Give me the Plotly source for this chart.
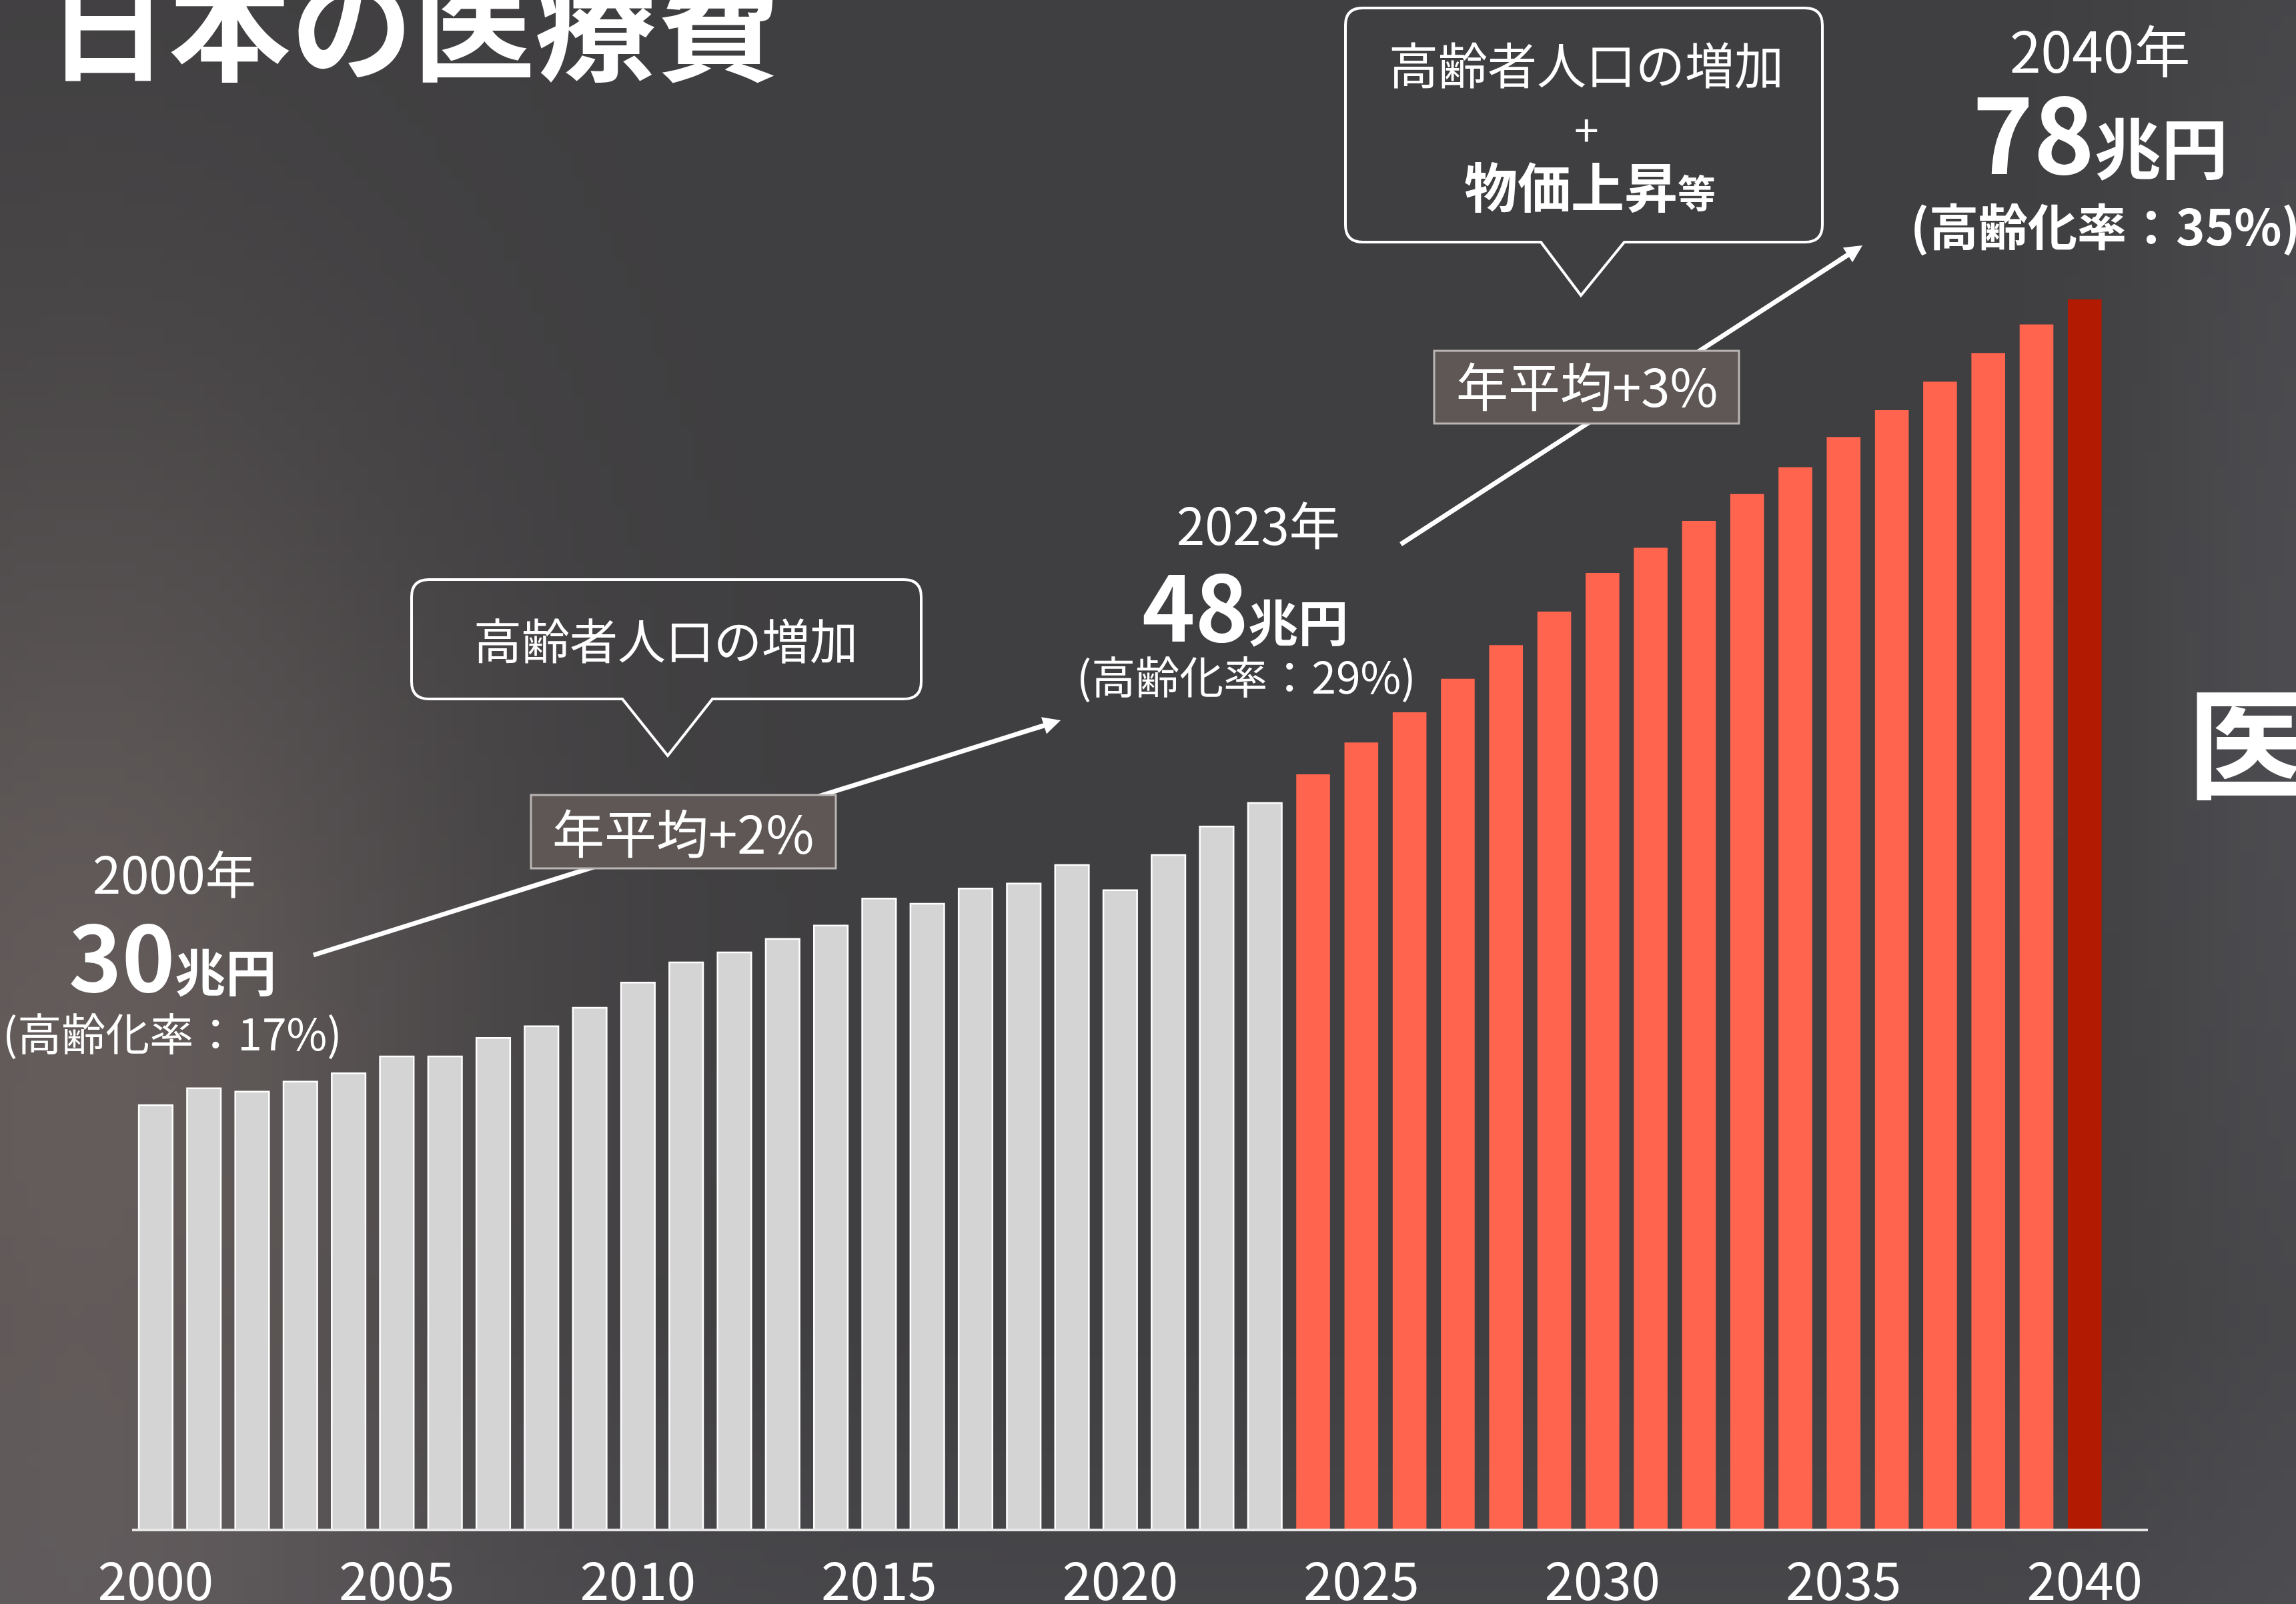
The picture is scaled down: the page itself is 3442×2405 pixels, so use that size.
import base64, struct, zlib
import numpy as np
import plotly.graph_objects as go

# ---------------- data ----------------
years = list(range(2000, 2041))
values = [30.0, 31.0, 30.8, 31.4, 31.9, 32.9, 32.9, 34.0, 34.7, 35.8,
          37.3, 38.5, 39.1, 39.9, 40.7, 42.3, 42.0, 42.9, 43.2, 44.3,
          42.8, 44.9, 46.6, 48.0, 49.7, 51.6, 53.4, 55.4, 57.4, 59.4,
          61.7, 63.2, 64.8, 66.4, 68.0, 69.8, 71.4, 73.1, 74.8, 76.5,
          78.0]
last_actual_year = 2023
target_year = 2040
tick_years = list(range(2000, 2041, 5))
tick_text = [str(y) for y in tick_years]

FONT = "Noto Sans CJK JP"
W, H = 3442, 2405
L, R, T, B = 198, 3220, 0, 2292  # plot area in pixels

# ---------------- helpers ----------------
def px(x):
    return (x - L) / (R - L)

def py(y):
    return (B - y) / (B - T)

def png_uri(arr):
    h, w, _ = arr.shape
    raw = b"".join(b"\x00" + arr[i].tobytes() for i in range(h))
    def chunk(tag, data):
        return struct.pack(">I", len(data)) + tag + data + struct.pack(">I", zlib.crc32(tag + data) & 0xffffffff)
    png = (b"\x89PNG\r\n\x1a\n" + chunk(b"IHDR", struct.pack(">IIBBBBB", w, h, 8, 2, 0, 0, 0))
           + chunk(b"IDAT", zlib.compress(raw, 9)) + chunk(b"IEND", b""))
    return "data:image/png;base64," + base64.b64encode(png).decode()

# background texture (soft gradient)
gw, gh = 172, 120
u = np.linspace(0, 1, gw)[None, :]
v = np.linspace(0, 1, gh)[:, None]
base = np.array([63, 62, 64], float)
warm = np.exp(-((u - 0.04) / 0.17) ** 2 - ((v - 0.70) / 0.45) ** 2)[..., None] * np.array([38, 31, 28], float)
right = np.exp(-((u - 1.0) / 0.08) ** 2 - ((v - 0.45) / 0.6) ** 2)[..., None] * np.array([14, 14, 16], float)
bottom = np.clip((v - 0.82) / 0.18, 0, 1)[..., None] * np.ones((1, gw, 1)) * np.array([9, 9, 11], float)
img = np.clip(base + warm + right + bottom, 0, 255).astype(np.uint8)
bg_uri = png_uri(img)

# ---------------- bars ----------------
colors, lws = [], []
for y in years:
    if y <= last_actual_year:
        colors.append("#d4d4d4"); lws.append(2.5)
    elif y < target_year:
        colors.append("#ff644f"); lws.append(0)
    else:
        colors.append("#b21a02"); lws.append(0)

px_per_unit = 25.17
y0 = 4.77
y1 = y0 + (B - T) / px_per_unit

fig = go.Figure(go.Bar(
    x=years, y=values, width=0.7,
    marker=dict(color=colors, line=dict(color="#ffffff", width=lws)),
    hoverinfo="x+y",
))

# ---------------- shapes ----------------
shapes = []

def bubble(Lb, Rb, Tb, Bb, r, tl, tr, tip):
    tx, ty = tip
    d = (f"M {px(Lb + r)},{py(Tb)} L {px(Rb - r)},{py(Tb)} Q {px(Rb)},{py(Tb)} {px(Rb)},{py(Tb + r)} "
         f"L {px(Rb)},{py(Bb - r)} Q {px(Rb)},{py(Bb)} {px(Rb - r)},{py(Bb)} "
         f"L {px(tr)},{py(Bb)} L {px(tx)},{py(ty)} L {px(tl)},{py(Bb)} "
         f"L {px(Lb + r)},{py(Bb)} Q {px(Lb)},{py(Bb)} {px(Lb)},{py(Bb - r)} "
         f"L {px(Lb)},{py(Tb + r)} Q {px(Lb)},{py(Tb)} {px(Lb + r)},{py(Tb)} Z")
    return dict(type="path", xref="paper", yref="paper", path=d,
                line=dict(color="#ffffff", width=4), fillcolor="rgba(0,0,0,0)", layer="above")

shapes.append(bubble(617, 1381, 869, 1048, 26, 933, 1068, (1001, 1133)))
shapes.append(bubble(2017, 2732, 12, 363, 26, 2310, 2435, (2370, 443)))

# arrow shafts
arrows = [((470, 1432), (1590, 1080)), ((2100, 816), (2792, 368))]
for (sx, sy), (tx, ty) in arrows:
    dx, dy = tx - sx, ty - sy
    n = (dx * dx + dy * dy) ** 0.5
    ex, ey = tx - dx / n * 22, ty - dy / n * 22
    shapes.append(dict(type="line", xref="paper", yref="paper",
                       x0=px(sx), y0=py(sy), x1=px(ex), y1=py(ey),
                       line=dict(color="#ffffff", width=7), layer="above"))

# rate boxes (drawn after shafts so they cover them)
for (bl, br, bt, bb) in [(796, 1253, 1192, 1302), (2150, 2607, 526, 635)]:
    shapes.append(dict(type="rect", xref="paper", yref="paper",
                       x0=px(bl), x1=px(br), y0=py(bb), y1=py(bt),
                       fillcolor="rgb(94,87,85)", line=dict(color="rgb(186,181,179)", width=3),
                       layer="above"))

# ---------------- annotations ----------------
ann = []

def text(x, y, s, size, bold=False, xanchor="center"):
    if bold:
        s = "<b>" + s + "</b>"
    ann.append(dict(x=px(x), y=py(y), xref="paper", yref="paper", text=s, showarrow=False,
                    xanchor=xanchor, yanchor="middle",
                    font=dict(family=FONT, size=size, color="#ffffff")))

# arrow heads
for (sx, sy), (tx, ty) in arrows:
    dx, dy = tx - sx, ty - sy
    n = (dx * dx + dy * dy) ** 0.5
    ann.append(dict(x=px(tx), y=py(ty), xref="paper", yref="paper", text="",
                    showarrow=True, arrowhead=2, arrowsize=0.75, arrowwidth=7,
                    arrowcolor="#ffffff", ax=-dx / n * 45, ay=-dy / n * 45, standoff=0))

# title and cut-off side text
text(68, 27, "日本の医療費", 183, bold=True, xanchor="left")
text(3277, 1104, "医療費", 180, bold=True, xanchor="left")

# 2000 block
text(261, 1307, "2000年", 76)
text(258, 1428, "<b>30</b><b><span style='font-size:76px'>兆円</span></b>", 135)
text(258, 1546, "(高齢化率：17%)", 66)

# 2023 block
text(1886, 784, "2023年", 76)
text(1866, 903, "<b>48</b><b><span style='font-size:75px'>兆円</span></b>", 135)
text(1868, 1011, "(高齢化率：29%)", 66)

# 2040 block
text(3148, 73, "2040年", 84)
text(3148, 194, "<b>78</b><b><span style='font-size:100px'>兆円</span></b>", 155)
text(3156, 335, "(高齢化率：35%)", 74, bold=True)

# bubbles
text(998, 956, "高齢者人口の増加", 72)
text(2378, 93, "高齢者人口の増加", 74)
text(2378, 191, "+", 66)
text(2383, 276, "<b>物価上昇</b><b><span style='font-size:57px'>等</span></b>", 80)

# rate labels
text(1024, 1246, "年平均+2%", 78)
text(2379, 576, "年平均+3%", 78)

fig.update_layout(
    width=W, height=H,
    margin=dict(l=L, r=W - R, t=T, b=H - B, pad=0, autoexpand=False),
    paper_bgcolor="#48464a", plot_bgcolor="rgba(0,0,0,0)",
    showlegend=False, bargap=0.3,
    font=dict(family=FONT, color="#ffffff"),
    xaxis=dict(range=[1999.51, 2041.31], tickvals=tick_years, ticktext=tick_text,
               showgrid=False, zeroline=False, showline=True, linecolor="#e8e8e8", linewidth=4,
               ticks="", ticklabelstandoff=9, automargin=False,
               tickfont=dict(family=FONT, size=78, color="#ffffff"), fixedrange=True),
    yaxis=dict(range=[y0, y1], visible=False, showgrid=False, zeroline=False,
               automargin=False, fixedrange=True),
    shapes=shapes, annotations=ann,
    images=[dict(source=bg_uri, xref="paper", yref="paper", x=px(-30), y=py(-30),
                 sizex=(W + 60) / (R - L), sizey=(H + 60) / (B - T), sizing="stretch",
                 xanchor="left", yanchor="top", layer="below")],
)

fig.write_html(
    "out.html",
    config={"displayModeBar": False},
    post_script="document.body.style.margin='0';document.body.style.overflow='hidden';"
                "document.body.style.background='#48464a';",
)
